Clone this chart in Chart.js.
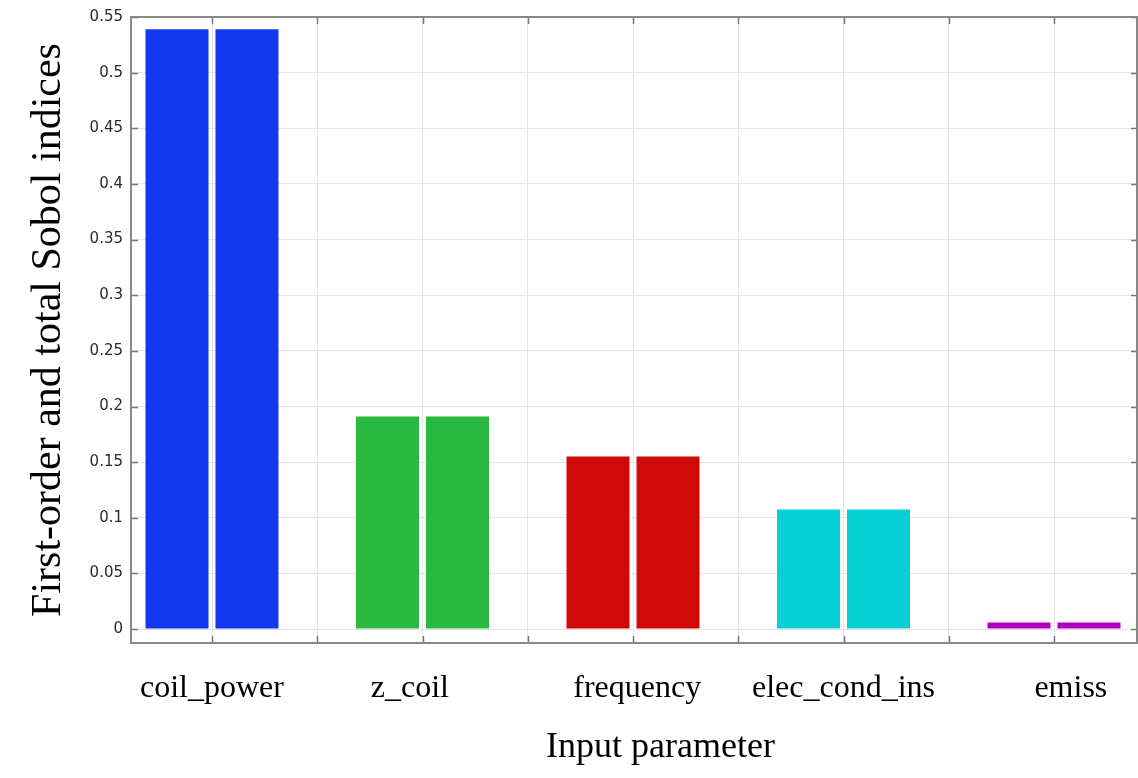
<!DOCTYPE html>
<html>
<head>
<meta charset="utf-8">
<title>Sobol indices</title>
<script src="https://cdn.jsdelivr.net/npm/chart.js@4.4.1/dist/chart.umd.min.js"></script>
<style>
  html, body { margin: 0; padding: 0; background: #fff; }
  #wrap { width: 1138px; height: 778px; position: relative; }
</style>
</head>
<body>
<div id="wrap"><canvas id="chart"></canvas></div>
<script>
var categories = ['coil_power', 'z_coil', 'frequency', 'elec_cond_ins', 'emiss'];
var firstOrder = [0.539, 0.191, 0.155, 0.1075, 0.006];
var totalOrder = [0.539, 0.191, 0.155, 0.1075, 0.006];
// where each category name sits along the x axis (in category units)
var labelPos = [1.0, 1.94, 3.02, 4.0, 5.08];
var barColors = ['#1238f0', '#2bb840', '#d00a08', '#07d1d5', '#b000be'];
var yTicks = { min: -0.0125, max: 0.55, step: 0.05 };
var xTitle = 'Input parameter';
var yTitle = 'First-order and total Sobol indices';

var serif = '"Liberation Serif", "Times New Roman", serif';

function points(values) {
  return values.map(function (v, i) { return { x: i + 1, y: v }; });
}

var frameTicks = {
  id: 'frameTicks',
  afterDatasetsDraw: function (chart) {
    var a = chart.chartArea;
    var ctx = chart.ctx;
    var xs = chart.scales.x;
    var ys = chart.scales.y;
    var len = 7;
    ctx.save();
    ctx.strokeStyle = '#777';
    ctx.lineWidth = 1.5;
    ctx.beginPath();
    xs.ticks.forEach(function (t) {
      var px = Math.round(xs.getPixelForValue(t.value)) + 0.5;
      ctx.moveTo(px, a.bottom); ctx.lineTo(px, a.bottom - len);
      ctx.moveTo(px, a.top); ctx.lineTo(px, a.top + len);
    });
    ys.ticks.forEach(function (t) {
      var py = Math.round(ys.getPixelForValue(t.value)) + 0.5;
      ctx.moveTo(a.left, py); ctx.lineTo(a.left + len, py);
      ctx.moveTo(a.right, py); ctx.lineTo(a.right - len, py);
    });
    ctx.stroke();
    ctx.strokeStyle = '#888';
    ctx.lineWidth = 2;
    ctx.strokeRect(a.left, a.top, a.right - a.left - 1, a.bottom - a.top);

    // category names and axis title under the plot
    ctx.fillStyle = '#000';
    ctx.textAlign = 'center';
    ctx.textBaseline = 'middle';
    ctx.font = '32px ' + serif;
    categories.forEach(function (name, i) {
      ctx.fillText(name, xs.getPixelForValue(labelPos[i]), a.bottom + 46);
    });
    ctx.font = '36px ' + serif;
    ctx.fillText(xTitle, (a.left + a.right) / 2 + 26, a.bottom + 105);
    ctx.restore();
  }
};

new Chart(document.getElementById('chart'), {
  type: 'bar',
  data: {
    datasets: [
      { label: 'First-order', data: points(firstOrder), backgroundColor: barColors },
      { label: 'Total', data: points(totalOrder), backgroundColor: barColors }
    ]
  },
  options: {
    responsive: true,
    maintainAspectRatio: false,
    animation: false,
    categoryPercentage: 1.33,
    barPercentage: 0.9,
    layout: { padding: { top: 14, left: 0, right: 0, bottom: 0 } },
    plugins: { legend: { display: false }, tooltip: { enabled: false } },
    scales: {
      x: {
        type: 'linear',
        min: 0.6152,
        max: 5.399,
        offset: false,
        border: { display: false },
        grid: { color: '#e4e4e4', drawTicks: false, offset: false },
        ticks: { display: false, stepSize: 0.5, includeBounds: false },
        afterFit: function (s) { s.height = 135; }
      },
      y: {
        min: yTicks.min,
        max: yTicks.max,
        border: { display: false },
        grid: { color: '#e4e4e4', drawTicks: false },
        ticks: {
          stepSize: yTicks.step,
          includeBounds: false,
          padding: 8,
          color: '#2a2a2a',
          font: { family: '"DejaVu Sans", sans-serif', size: 15 },
          callback: function (v) { return String(+v.toFixed(2)); }
        },
        title: {
          display: true,
          text: yTitle,
          color: '#000',
          font: { family: serif, size: 42 },
          padding: { top: 24, bottom: 0 }
        },
        afterFit: function (s) { s.width = 131; }
      }
    }
  },
  plugins: [frameTicks]
});
</script>
</body>
</html>
